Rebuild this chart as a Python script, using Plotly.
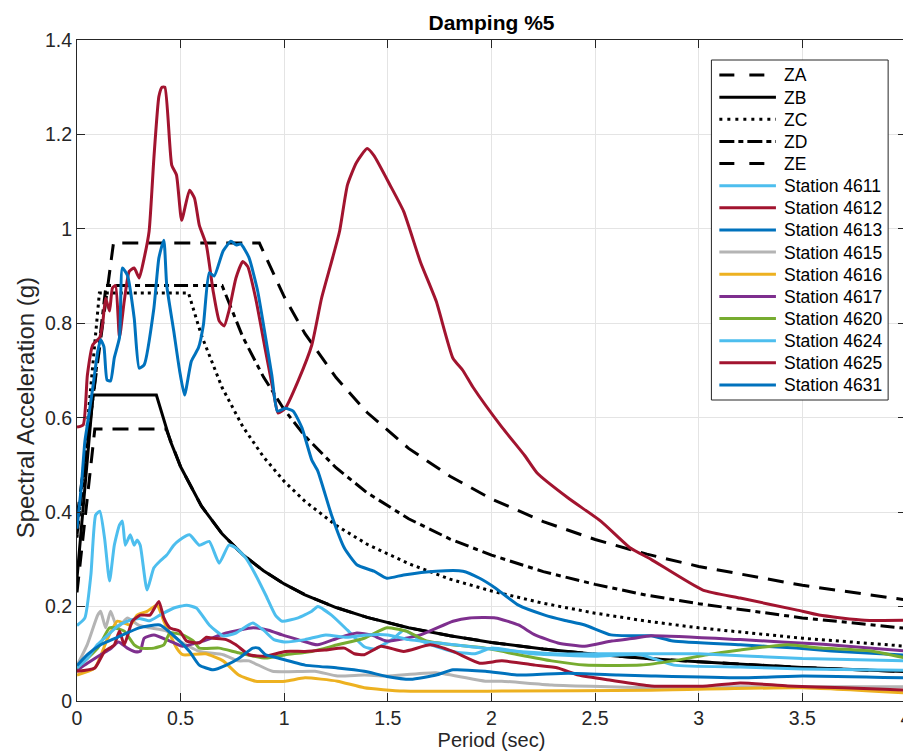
import plotly.graph_objects as go

# ---------------- code design spectra ----------------
t_ZA = [0.0, 0.086, 0.43, 0.5, 0.6, 0.7, 0.8, 0.9, 1.0, 1.1, 1.25, 1.4, 1.6, 1.8, 2.0, 2.25, 2.5, 2.75, 3.0, 3.5, 4.0]
sa_ZA = [0.23, 0.576, 0.576, 0.496, 0.413, 0.354, 0.31, 0.276, 0.248, 0.225, 0.198, 0.177, 0.155, 0.138, 0.124, 0.110, 0.099, 0.090, 0.083, 0.071, 0.062]

t_ZB = [0.0, 0.077, 0.383, 0.45, 0.5, 0.6, 0.7, 0.8, 0.9, 1.0, 1.1, 1.25, 1.4, 1.6, 1.8, 2.0, 2.25, 2.5, 2.75, 3.0, 3.5, 4.0]
sa_ZB = [0.26, 0.648, 0.648, 0.551, 0.496, 0.413, 0.354, 0.31, 0.276, 0.248, 0.225, 0.198, 0.177, 0.155, 0.138, 0.124, 0.110, 0.099, 0.090, 0.083, 0.071, 0.062]

t_ZC = [0.0, 0.108, 0.538, 0.6, 0.7, 0.8, 0.9, 1.0, 1.1, 1.25, 1.4, 1.6, 1.8, 2.0, 2.25, 2.5, 2.75, 3.0, 3.5, 4.0]
sa_ZC = [0.346, 0.864, 0.864, 0.775, 0.664, 0.581, 0.517, 0.465, 0.423, 0.372, 0.332, 0.291, 0.258, 0.233, 0.207, 0.186, 0.169, 0.155, 0.133, 0.116]

t_ZD = [0.0, 0.14, 0.70, 0.8, 0.9, 1.0, 1.1, 1.25, 1.4, 1.6, 1.8, 2.0, 2.25, 2.5, 2.75, 3.0, 3.5, 4.0]
sa_ZD = [0.352, 0.88, 0.88, 0.771, 0.686, 0.617, 0.561, 0.494, 0.441, 0.386, 0.343, 0.309, 0.274, 0.247, 0.224, 0.206, 0.176, 0.154]

t_ZE = [0.0, 0.176, 0.88, 1.0, 1.1, 1.25, 1.4, 1.6, 1.8, 2.0, 2.25, 2.5, 2.75, 3.0, 3.5, 4.0]
sa_ZE = [0.388, 0.97, 0.97, 0.856, 0.778, 0.685, 0.611, 0.535, 0.476, 0.428, 0.380, 0.342, 0.311, 0.285, 0.245, 0.214]

# ---------------- station spectra ----------------
t_4611 = [0.0, 0.038, 0.067, 0.09, 0.11, 0.133, 0.157, 0.18, 0.205, 0.219, 0.233, 0.257, 0.276, 0.29, 0.305, 0.338, 0.371, 0.40, 0.433, 0.467, 0.495, 0.543, 0.59, 0.638, 0.686, 0.733, 0.767, 0.814, 0.862, 0.91, 0.957, 0.99, 1.067, 1.133, 1.162, 1.228, 1.305, 1.386, 1.433, 1.52, 1.576, 1.62, 1.66, 1.81, 1.92, 2.0, 2.2, 2.5, 2.72, 2.88, 3.2, 3.5, 4.0]
sa_4611 = [0.16, 0.176, 0.267, 0.394, 0.402, 0.345, 0.254, 0.33, 0.373, 0.381, 0.33, 0.352, 0.33, 0.341, 0.33, 0.235, 0.282, 0.296, 0.309, 0.33, 0.341, 0.352, 0.33, 0.338, 0.292, 0.33, 0.324, 0.303, 0.267, 0.225, 0.182, 0.169, 0.176, 0.19, 0.20, 0.182, 0.15, 0.115, 0.11, 0.13, 0.15, 0.14, 0.127, 0.105, 0.10, 0.112, 0.10, 0.095, 0.098, 0.076, 0.072, 0.068, 0.065]

t_4612 = [0.0, 0.03, 0.05, 0.076, 0.11, 0.124, 0.138, 0.157, 0.171, 0.186, 0.205, 0.228, 0.252, 0.276, 0.30, 0.324, 0.348, 0.371, 0.395, 0.41, 0.424, 0.457, 0.48, 0.505, 0.543, 0.567, 0.59, 0.624, 0.657, 0.686, 0.71, 0.733, 0.767, 0.80, 0.824, 0.862, 0.91, 0.95, 0.97, 1.005, 1.067, 1.133, 1.18, 1.228, 1.267, 1.305, 1.348, 1.40, 1.433, 1.51, 1.576, 1.657, 1.733, 1.814, 1.862, 1.91, 2.05, 2.16, 2.22, 2.37, 2.53, 2.67, 2.77, 3.02, 3.2, 3.47, 3.58, 3.8, 4.0]
sa_4612 = [0.58, 0.585, 0.69, 0.754, 0.77, 0.80, 0.853, 0.826, 0.875, 0.88, 0.77, 0.847, 0.91, 0.917, 0.896, 0.938, 0.995, 1.15, 1.28, 1.30, 1.30, 1.135, 1.114, 1.018, 1.082, 1.065, 1.008, 0.966, 0.868, 0.805, 0.794, 0.826, 0.896, 0.931, 0.92, 0.853, 0.741, 0.65, 0.61, 0.62, 0.678, 0.754, 0.853, 0.93, 0.995, 1.093, 1.14, 1.17, 1.155, 1.093, 1.037, 0.93, 0.847, 0.726, 0.70, 0.665, 0.58, 0.52, 0.483, 0.43, 0.38, 0.324, 0.30, 0.235, 0.218, 0.193, 0.182, 0.171, 0.171]

t_4613 = [0.0, 0.02, 0.038, 0.05, 0.076, 0.1, 0.114, 0.13, 0.145, 0.162, 0.18, 0.205, 0.219, 0.243, 0.276, 0.30, 0.324, 0.371, 0.395, 0.419, 0.433, 0.467, 0.495, 0.519, 0.552, 0.586, 0.61, 0.638, 0.662, 0.705, 0.743, 0.767, 0.79, 0.829, 0.871, 0.91, 0.94, 0.967, 1.005, 1.043, 1.086, 1.133, 1.162, 1.228, 1.29, 1.352, 1.433, 1.495, 1.576, 1.733, 1.862, 1.943, 2.02, 2.13, 2.257, 2.35, 2.45, 2.576, 2.67, 2.77, 2.876, 3.2, 3.47, 3.64, 4.0]
sa_4613 = [0.365, 0.45, 0.55, 0.585, 0.663, 0.74, 0.765, 0.75, 0.68, 0.678, 0.727, 0.77, 0.917, 0.902, 0.811, 0.705, 0.712, 0.832, 0.938, 0.976, 0.88, 0.783, 0.70, 0.648, 0.72, 0.748, 0.797, 0.907, 0.90, 0.953, 0.974, 0.966, 0.968, 0.94, 0.87, 0.77, 0.69, 0.614, 0.62, 0.614, 0.578, 0.51, 0.487, 0.394, 0.324, 0.288, 0.275, 0.26, 0.267, 0.275, 0.275, 0.26, 0.239, 0.203, 0.182, 0.171, 0.161, 0.14, 0.138, 0.138, 0.127, 0.119, 0.112, 0.106, 0.097]

t_4615 = [0.0, 0.05, 0.1, 0.114, 0.138, 0.162, 0.195, 0.243, 0.3, 0.352, 0.433, 0.495, 0.59, 0.705, 0.78, 0.829, 0.943, 1.148, 1.257, 1.386, 1.495, 1.733, 1.97, 2.05, 2.29, 2.77, 3.2, 3.6, 4.0]
sa_4615 = [0.075, 0.12, 0.182, 0.19, 0.155, 0.19, 0.155, 0.176, 0.16, 0.155, 0.148, 0.127, 0.105, 0.098, 0.085, 0.085, 0.063, 0.063, 0.053, 0.055, 0.053, 0.06, 0.042, 0.042, 0.034, 0.028, 0.03, 0.03, 0.03]

t_4616 = [0.0, 0.086, 0.148, 0.195, 0.257, 0.29, 0.338, 0.386, 0.419, 0.481, 0.51, 0.62, 0.705, 0.78, 0.862, 1.005, 1.1, 1.257, 1.386, 1.576, 2.05, 2.77, 3.5, 4.0]
sa_4616 = [0.055, 0.07, 0.133, 0.169, 0.161, 0.182, 0.19, 0.203, 0.169, 0.112, 0.098, 0.10, 0.085, 0.055, 0.042, 0.042, 0.049, 0.042, 0.028, 0.021, 0.021, 0.023, 0.028, 0.017]

t_4617 = [0.0, 0.05, 0.114, 0.16, 0.2, 0.243, 0.276, 0.305, 0.324, 0.371, 0.448, 0.51, 0.61, 0.72, 0.85, 0.924, 0.99, 1.067, 1.16, 1.257, 1.35, 1.42, 1.495, 1.657, 1.814, 1.895, 2.02, 2.13, 2.21, 2.32, 2.45, 2.58, 2.69, 2.77, 3.2, 3.6, 4.0]
sa_4617 = [0.065, 0.08, 0.098, 0.11, 0.125, 0.112, 0.105, 0.105, 0.133, 0.14, 0.127, 0.116, 0.127, 0.144, 0.155, 0.15, 0.14, 0.13, 0.119, 0.133, 0.144, 0.14, 0.127, 0.14, 0.169, 0.176, 0.176, 0.161, 0.14, 0.123, 0.116, 0.127, 0.133, 0.138, 0.13, 0.12, 0.106]

t_4620 = [0.0, 0.1, 0.157, 0.18, 0.228, 0.276, 0.305, 0.371, 0.419, 0.448, 0.51, 0.562, 0.59, 0.686, 0.78, 0.91, 1.005, 1.133, 1.257, 1.386, 1.495, 1.59, 1.686, 1.81, 1.97, 2.13, 2.29, 2.45, 2.72, 2.876, 3.04, 3.2, 3.43, 3.59, 3.83, 4.0]
sa_4620 = [0.07, 0.112, 0.155, 0.155, 0.148, 0.119, 0.112, 0.112, 0.119, 0.144, 0.14, 0.127, 0.112, 0.112, 0.102, 0.091, 0.098, 0.105, 0.119, 0.133, 0.155, 0.148, 0.127, 0.119, 0.112, 0.098, 0.085, 0.076, 0.076, 0.085, 0.098, 0.108, 0.119, 0.112, 0.106, 0.091]

t_4624 = [0.0, 0.05, 0.1, 0.15, 0.2, 0.25, 0.3, 0.35, 0.4, 0.467, 0.529, 0.576, 0.638, 0.705, 0.767, 0.848, 0.9, 0.95, 1.0, 1.1, 1.2, 1.3, 1.4, 1.5, 1.6, 1.8, 2.0, 2.3, 2.6, 2.8, 3.0, 3.5, 4.0]
sa_4624 = [0.07, 0.09, 0.12, 0.14, 0.16, 0.17, 0.175, 0.17, 0.182, 0.197, 0.203, 0.197, 0.161, 0.138, 0.144, 0.165, 0.15, 0.13, 0.125, 0.13, 0.14, 0.135, 0.14, 0.14, 0.13, 0.12, 0.11, 0.10, 0.10, 0.10, 0.10, 0.09, 0.085]

t_4625 = [0.0, 0.086, 0.133, 0.18, 0.205, 0.228, 0.267, 0.305, 0.352, 0.395, 0.419, 0.448, 0.495, 0.529, 0.59, 0.624, 0.657, 0.72, 0.767, 0.83, 0.91, 1.005, 1.1, 1.195, 1.29, 1.338, 1.386, 1.467, 1.576, 1.705, 1.814, 1.943, 2.05, 2.21, 2.32, 2.42, 2.576, 2.77, 3.04, 3.2, 3.43, 3.7, 4.0]
sa_4625 = [0.063, 0.07, 0.105, 0.119, 0.148, 0.119, 0.169, 0.182, 0.182, 0.211, 0.176, 0.155, 0.148, 0.127, 0.123, 0.135, 0.133, 0.13, 0.119, 0.098, 0.095, 0.105, 0.105, 0.108, 0.112, 0.10, 0.098, 0.116, 0.105, 0.119, 0.105, 0.08, 0.085, 0.076, 0.07, 0.055, 0.044, 0.032, 0.032, 0.038, 0.032, 0.028, 0.023]

t_4631 = [0.0, 0.05, 0.114, 0.195, 0.3, 0.4, 0.48, 0.543, 0.59, 0.657, 0.72, 0.78, 0.848, 0.876, 0.91, 0.97, 1.1, 1.257, 1.386, 1.495, 1.61, 1.733, 1.814, 1.97, 2.13, 2.37, 2.61, 2.77, 3.2, 3.5, 4.0]
sa_4631 = [0.075, 0.098, 0.119, 0.135, 0.155, 0.161, 0.133, 0.105, 0.076, 0.066, 0.076, 0.09, 0.112, 0.112, 0.098, 0.091, 0.076, 0.07, 0.063, 0.052, 0.046, 0.055, 0.066, 0.063, 0.055, 0.059, 0.055, 0.053, 0.049, 0.053, 0.049]

code_names = ["ZA", "ZB", "ZC", "ZD", "ZE"]
code_t = [t_ZA, t_ZB, t_ZC, t_ZD, t_ZE]
code_sa = [sa_ZA, sa_ZB, sa_ZC, sa_ZD, sa_ZE]
code_dash = ["16px,10px", "solid", "3px,4px", "14px,5px,5px,5px", "16px,10px"]
legend_dash = ["15px,15px", "solid", "3px,5px", "15px,4px,5px,4px", "15px,15px"]

station_names = ["Station 4611", "Station 4612", "Station 4613", "Station 4615", "Station 4616",
                 "Station 4617", "Station 4620", "Station 4624", "Station 4625", "Station 4631"]
station_t = [t_4611, t_4612, t_4613, t_4615, t_4616, t_4617, t_4620, t_4624, t_4625, t_4631]
station_sa = [sa_4611, sa_4612, sa_4613, sa_4615, sa_4616, sa_4617, sa_4620, sa_4624, sa_4625, sa_4631]
station_colors = ["#4DBEEE", "#A2142F", "#0072BD", "#B4B4B4", "#EDB120",
                  "#7E2F8E", "#77AC30", "#4DBEEE", "#A2142F", "#0072BD"]

# ---------------- layout geometry (pixels) ----------------
W, H = 911, 754
ML, MR, MT, MB = 69, 7, 32, 61
PW, PH = W - ML - MR, H - MT - MB


def px(xp):
    return (xp - ML) / PW


def py(yp):
    return (H - MB - yp) / PH


FONT = "Liberation Sans, Arial, Helvetica, sans-serif"

fig = go.Figure()
for name, t, sa, dash in zip(code_names, code_t, code_sa, code_dash):
    fig.add_trace(go.Scatter(x=t, y=sa, mode="lines", name=name, showlegend=False,
                             line=dict(color="black", width=3, dash=dash)))
for name, t, sa, col in zip(station_names, station_t, station_sa, station_colors):
    fig.add_trace(go.Scatter(x=t, y=sa, mode="lines", name=name, showlegend=False,
                             line=dict(color=col, width=3, shape="spline", smoothing=0.5)))

# ---------------- legend (box, sample lines, labels) ----------------
fig.add_shape(type="rect", xref="paper", yref="paper", x0=px(708), x1=px(886), y0=py(392), y1=py(52),
              line=dict(color="#262626", width=1), fillcolor="white", layer="above")
leg_names = code_names + station_names
leg_colors = ["black"] * 5 + station_colors
leg_dashes = legend_dash + ["solid"] * 10
for i, (nm, col, dsh) in enumerate(zip(leg_names, leg_colors, leg_dashes)):
    yc = 67 + 22.14 * i
    fig.add_shape(type="line", xref="paper", yref="paper", x0=px(716), x1=px(773), y0=py(yc), y1=py(yc),
                  line=dict(color=col, width=3, dash=dsh), layer="above")
    fig.add_annotation(xref="paper", yref="paper", x=px(779), y=py(yc + 0.5), text=nm, showarrow=False,
                       xanchor="left", yanchor="middle", font=dict(size=17.5, color="black", family=FONT))

# y-axis label
fig.add_annotation(xref="paper", yref="paper", x=px(17), y=py(400), text="Spectral Acceleration (g)",
                   showarrow=False, textangle=-90, xanchor="center", yanchor="middle",
                   font=dict(size=24, color="#262626", family=FONT))

axis_common = dict(showgrid=True, gridcolor="#e4e4e4", gridwidth=1, showline=True,
                   linecolor="#262626", linewidth=1, mirror="ticks", ticks="inside",
                   ticklen=8, tickcolor="#262626", zeroline=False,
                   tickfont=dict(size=19.5, color="#262626", family=FONT))

fig.update_layout(
    width=W, height=H,
    margin=dict(l=ML, r=MR, t=MT, b=MB),
    paper_bgcolor="white", plot_bgcolor="white", showlegend=False,
    font=dict(family=FONT, color="#262626"),
    title=dict(text="<b>Damping %5</b>", x=0.5, xref="paper", y=1 - 15 / H,
               yanchor="middle", xanchor="center", font=dict(size=21, color="black", family=FONT)),
    xaxis=dict(range=[0, 4], tickvals=[0, 0.5, 1, 1.5, 2, 2.5, 3, 3.5, 4],
               ticktext=["0", "0.5", "1", "1.5", "2", "2.5", "3", "3.5", "4"],
               title=dict(text="Period (sec)", font=dict(size=20, color="#262626", family=FONT), standoff=4),
               **axis_common),
    yaxis=dict(range=[0, 1.4], dtick=0.2, **axis_common),
)
fig.write_html("out.html")
